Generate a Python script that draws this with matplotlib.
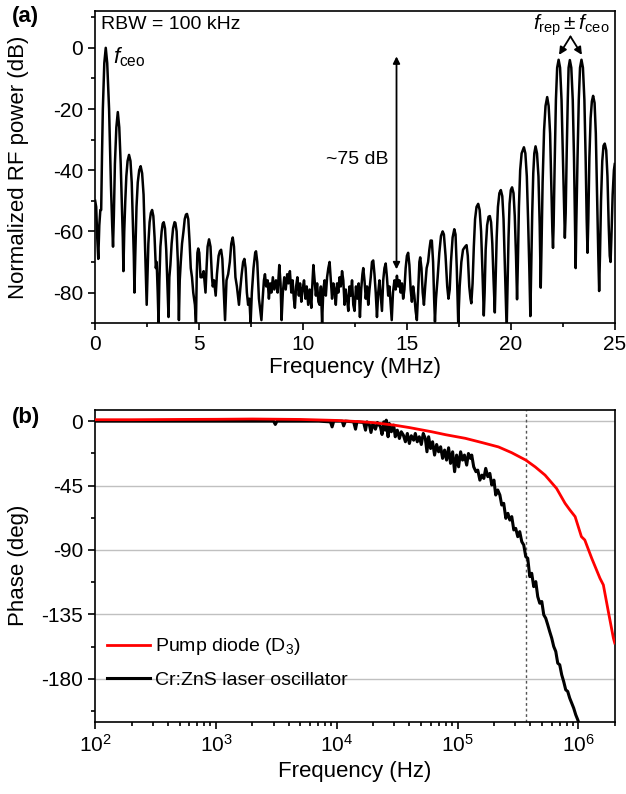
import matplotlib
matplotlib.use("Agg")
import matplotlib.pyplot as plt
from matplotlib.ticker import MultipleLocator, LogLocator, NullFormatter

plt.rcParams["font.family"] = ["Liberation Sans", "DejaVu Sans"]
plt.rcParams["mathtext.fontset"] = "custom"
plt.rcParams["mathtext.rm"] = "Liberation Sans"
plt.rcParams["mathtext.it"] = "Liberation Sans:italic"
plt.rcParams["axes.unicode_minus"] = False

# (a) RF beat spectrum: (MHz, dB)
spec_low = [  # f_ceo and its decaying neighbours
    (0.00, -50), (0.05, -52), (0.10, -62), (0.15, -69), (0.20, -58), (0.25, -53), (0.29, -53),
    (0.33, -35), (0.37, -20), (0.44, -5), (0.51, 0), (0.58, -5), (0.67, -20), (0.76, -45),
    (0.82, -58), (0.86, -65), (0.90, -55), (0.95, -38), (1.02, -26), (1.09, -21), (1.16, -26),
    (1.23, -38), (1.30, -55), (1.33, -62), (1.36, -73), (1.40, -60), (1.45, -50), (1.50, -42),
    (1.56, -37), (1.63, -35), (1.70, -37), (1.76, -44), (1.82, -58), (1.86, -68), (1.89, -80),
    (1.93, -68), (1.99, -52), (2.05, -44), (2.12, -40), (2.19, -38.7), (2.26, -41), (2.33, -48),
    (2.39, -62), (2.44, -74), (2.48, -84), (2.52, -74), (2.56, -64), (2.62, -57), (2.68, -54),
    (2.74, -53), (2.80, -55), (2.86, -62), (2.92, -72), (2.96, -70), (3.01, -80), (3.05, -90),
    (3.09, -76), (3.14, -65), (3.20, -60), (3.25, -57.5), (3.30, -57), (3.36, -59), (3.42, -66),
    (3.48, -78), (3.53, -88), (3.57, -75), (3.62, -71), (3.68, -64), (3.75, -59), (3.82, -57),
    (3.86, -57.2), (3.92, -60), (3.98, -70), (4.03, -89), (4.07, -76), (4.12, -70), (4.18, -64),
    (4.25, -60), (4.31, -56), (4.37, -54.5), (4.42, -54.3), (4.48, -56), (4.54, -63), (4.60, -72),
    (4.66, -75), (4.72, -80), (4.80, -84), (4.85, -90), (4.89, -74), (4.92, -67), (4.96, -65.6),
    (5.01, -67), (5.07, -75), (5.14, -75), (5.22, -73), (5.31, -80), (5.36, -72), (5.41, -65),
    (5.48, -62.6), (5.55, -65), (5.62, -75), (5.66, -78), (5.72, -76), (5.80, -81), (5.86, -74),
    (5.94, -68), (6.00, -66.5), (6.06, -66), (6.12, -69), (6.19, -80), (6.25, -89),
]
spec_mid = [  # noise floor
    (6.32, -76), (6.40, -74), (6.48, -70), (6.55, -64), (6.62, -62), (6.68, -65), (6.75, -75),
    (6.82, -78), (6.92, -84), (6.98, -79), (7.05, -74), (7.12, -70), (7.18, -69), (7.24, -72),
    (7.30, -80), (7.36, -84), (7.42, -82), (7.48, -90), (7.54, -80), (7.62, -72), (7.70, -67),
    (7.74, -66.5), (7.80, -70), (7.88, -82), (7.95, -86), (8.00, -89), (8.06, -82), (8.12, -76),
    (8.17, -74), (8.23, -78), (8.30, -76), (8.36, -82), (8.42, -77), (8.48, -80), (8.55, -75),
    (8.62, -79), (8.70, -76), (8.78, -80), (8.86, -71), (8.92, -77), (8.97, -89), (9.03, -80),
    (9.10, -75), (9.17, -79), (9.24, -74), (9.30, -77), (9.37, -73), (9.44, -80), (9.50, -76),
    (9.56, -82), (9.61, -85), (9.67, -78), (9.73, -75), (9.80, -81), (9.86, -77), (9.92, -83),
    (9.98, -79), (10.05, -76), (10.12, -82), (10.18, -78), (10.25, -84), (10.32, -79),
    (10.40, -85), (10.46, -76), (10.50, -71), (10.55, -75), (10.62, -81), (10.68, -77),
    (10.74, -83), (10.80, -84), (10.86, -78), (10.92, -90), (10.98, -79), (11.04, -76),
    (11.10, -81), (11.16, -75), (11.22, -72), (11.28, -70), (11.34, -76), (11.40, -82),
    (11.46, -77), (11.52, -79), (11.58, -84), (11.64, -77), (11.70, -80), (11.76, -75),
    (11.82, -78), (11.88, -73), (11.94, -76), (12.00, -84), (12.06, -79), (12.12, -82),
    (12.18, -86), (12.24, -78), (12.30, -81), (12.36, -76), (12.42, -84), (12.48, -86),
    (12.55, -78), (12.62, -82), (12.68, -77), (12.74, -88), (12.80, -79), (12.86, -74),
    (12.90, -72), (12.96, -76), (13.02, -82), (13.08, -78), (13.14, -84), (13.20, -79),
    (13.26, -75), (13.32, -70), (13.38, -69.5), (13.44, -74), (13.50, -80), (13.56, -88),
    (13.62, -80), (13.68, -76), (13.75, -82), (13.80, -86), (13.86, -76), (13.92, -72),
    (13.98, -70.5), (14.04, -75), (14.10, -81), (14.16, -78), (14.22, -84), (14.27, -89),
    (14.33, -80), (14.40, -76), (14.46, -79), (14.52, -74.5), (14.58, -78), (14.64, -76),
    (14.70, -80), (14.76, -77), (14.82, -82), (14.88, -79), (14.94, -72), (15.00, -68),
    (15.06, -67), (15.12, -71), (15.18, -79), (15.24, -83), (15.30, -78), (15.36, -81),
    (15.42, -86), (15.48, -89), (15.54, -80), (15.60, -70), (15.64, -68.5), (15.70, -72),
    (15.76, -80), (15.82, -84), (15.88, -78), (15.95, -72), (16.02, -70), (16.08, -66),
    (16.14, -63), (16.20, -63), (16.26, -70), (16.31, -82), (16.35, -89.5), (16.40, -82),
    (16.48, -75), (16.56, -67), (16.64, -61.5), (16.72, -60), (16.78, -61), (16.86, -68),
    (16.94, -78), (17.00, -82), (17.06, -79), (17.12, -70), (17.20, -62), (17.28, -59.3),
    (17.34, -61), (17.40, -72), (17.47, -90), (17.54, -78), (17.62, -70), (17.70, -66),
    (17.80, -65), (17.87, -64.5), (17.93, -68), (18.00, -78), (18.06, -82), (18.10, -83.5),
]
spec_high = [  # f_rep +/- f_ceo cluster
    (18.16, -77), (18.22, -65), (18.28, -56), (18.35, -52), (18.43, -51), (18.50, -53),
    (18.57, -60), (18.63, -72), (18.70, -87.5), (18.74, -80), (18.79, -66), (18.86, -58),
    (18.93, -55.2), (18.99, -55), (19.05, -57), (19.11, -64), (19.17, -76), (19.23, -86.5),
    (19.27, -76), (19.32, -62), (19.38, -52), (19.45, -47.5), (19.52, -46.5), (19.59, -48.5),
    (19.65, -56), (19.71, -70), (19.77, -84), (19.80, -92), (19.84, -78), (19.89, -62),
    (19.94, -51), (20.00, -46.5), (20.06, -45.6), (20.13, -47.5), (20.19, -55), (20.25, -68),
    (20.30, -82.2), (20.34, -70), (20.39, -52), (20.45, -40), (20.52, -34.5), (20.63, -32.5),
    (20.70, -34.5), (20.77, -42), (20.83, -56), (20.89, -72), (20.94, -87.7), (20.98, -72),
    (21.03, -54), (21.08, -41), (21.13, -34.5), (21.19, -32.2), (21.26, -34.5), (21.33, -42),
    (21.39, -58), (21.44, -78.4), (21.48, -64), (21.53, -44), (21.60, -27), (21.67, -19),
    (21.75, -16.1), (21.82, -19), (21.89, -28), (21.95, -45), (22.00, -60), (22.03, -65.4),
    (22.06, -58), (22.11, -38), (22.17, -17), (22.23, -6.5), (22.30, -3.9), (22.37, -6.5),
    (22.44, -17), (22.50, -34), (22.56, -52), (22.60, -62.1), (22.64, -54), (22.69, -34),
    (22.74, -17), (22.78, -6.5), (22.84, -4), (22.91, -6.5), (22.98, -17), (23.04, -36),
    (23.09, -58), (23.12, -72), (23.15, -58), (23.21, -36), (23.27, -17), (23.33, -6.5),
    (23.40, -3.9), (23.47, -6.5), (23.54, -17), (23.60, -36), (23.65, -56), (23.69, -67),
    (23.73, -56), (23.78, -36), (23.84, -23), (23.90, -17.5), (23.96, -15.7), (24.03, -18),
    (24.09, -28), (24.15, -48), (24.21, -68), (24.25, -79.5), (24.29, -68), (24.34, -50),
    (24.40, -37), (24.46, -32), (24.52, -31.3), (24.59, -33.5), (24.65, -42), (24.71, -58),
    (24.76, -68), (24.80, -70), (24.84, -62), (24.90, -48), (24.96, -40), (25.00, -38),
]

# (b) phase response (Hz, deg)
pump_f = [100, 200, 500, 1000, 2000, 5000, 1e4, 1.5e4, 2e4, 3e4, 4e4, 6.1e4, 8e4, 1.16e5, 1.6e5,
          2.18e5, 2.8e5, 3.67e5, 4.4e5, 5.3e5, 6.6e5, 7.76e5, 8.5e5, 9.4e5, 1.06e6, 1.13e6, 1.29e6,
          1.51e6, 1.61e6, 1.77e6, 1.95e6, 2.0e6]
pump_ph = [1.0, 1.0, 1.2, 1.3, 1.5, 1.2, 0.5, -0.3, -1.0, -2.8, -4.5, -7.4, -9.5, -12, -15,
           -18, -22, -27.2, -32, -37.7, -47, -57.4, -62, -66.7, -80.7, -83, -95.8,
           -109.8, -114.4, -133, -151.6, -155]

osc_f = [100, 1000, 3000, 3100, 3200, 6500, 7100, 8870, 9150, 9440, 11100, 11400, 11800, 13800,
         14300, 14700, 16700, 17300, 17800, 18600, 19200, 19900, 20900, 21700, 23000, 23700, 24500,
         25200, 25700, 26600, 27200, 28300, 29600, 30500, 31700, 33000, 34200, 35600, 37000, 38400,
         39900, 41400, 43300, 44700, 46400, 48200, 50100, 52000, 54100, 55800, 57600, 59800, 62100,
         64500, 67100, 69700, 72400, 75200, 78100, 81100, 84300, 87500, 91000, 94500, 98200,
         1.02e5, 1.06e5, 1.10e5, 1.14e5, 1.19e5, 1.23e5, 1.28e5, 1.31e5, 1.36e5, 1.42e5, 1.47e5,
         1.53e5, 1.59e5, 1.65e5, 1.71e5, 1.78e5, 1.85e5, 1.92e5, 2.00e5, 2.07e5, 2.15e5, 2.24e5,
         2.32e5, 2.41e5, 2.51e5, 2.61e5, 2.71e5, 2.81e5, 2.92e5, 3.03e5, 3.15e5, 3.27e5, 3.40e5,
         3.53e5, 3.67e5, 3.81e5, 3.96e5, 4.11e5, 4.27e5, 4.44e5, 4.61e5, 4.79e5, 4.98e5, 5.17e5,
         5.37e5, 5.58e5, 5.79e5, 6.02e5, 6.25e5, 6.50e5, 6.75e5, 7.01e5, 7.28e5, 7.56e5, 7.86e5,
         8.16e5, 8.48e5, 8.81e5, 9.15e5, 9.51e5, 9.88e5, 1.02e6]
osc_ph = [0, 0, 0, -2.3, 0, 0, 0, -0.5, -4.0, 0, 0, -3.3, 0, -0.5,
          -5.6, -0.5, -0.9, -6.3, -0.5, -2.3, -7.9, -1.6, -5.6, -0.9, -4.0, -9.3, -0.5,
          -6.3, 0.7, -10.9, -1.6, -7.4, -2.8, -10.9, -6.3, -12.1, -7.4, -9.8, -14.4, -8.6,
          -15.6, -10.2, -13.3, -8.6, -14.4, -10.9, -16.3, -8.6, -12.1, -21.4, -10.9, -19.1, -14.4,
          -23.7, -16.3, -21.4, -17.9, -26.0, -20.2, -27.2, -18.6, -29.5, -21.4, -35.3, -23.7,
          -31.9, -21.4, -27.2, -23.7, -30.7, -22.6, -26.0, -23.7, -31.9, -35.3, -34.2,
          -41.2, -37.7, -40.0, -33.0, -38.8, -36.5, -44.6, -41.2, -51.6, -48.1, -51.6,
          -58.6, -57.4, -67.9, -64.4, -69.1, -66.7, -76.0, -74.9, -80.7, -77.2, -84.2,
          -86.5, -94.7, -95.8, -108.6, -106.3, -115.6, -112.1, -122.6, -127.2, -126.0, -135.3,
          -137.7, -142.3, -147.0, -151.6, -157.4, -160.9, -169.1, -170.2, -177.2, -181.9, -187.7,
          -188.8, -193.5, -197.0, -200.5, -205.1, -208.6, -212]

cutoff_hz = 3.7e5
FS = 15
LFS = 16

spec_f, spec_db = zip(*(spec_low + spec_mid + spec_high))

fig = plt.figure(figsize=(6.26, 7.94), dpi=100)
ax1 = fig.add_axes([0.152, 0.593, 0.830, 0.393])
ax2 = fig.add_axes([0.152, 0.091, 0.830, 0.393])

for ax in (ax1, ax2):
    for s in ax.spines.values():
        s.set_linewidth(1.2)
    ax.tick_params(which="both", direction="out", top=False, right=False,
                   labelsize=FS, width=1.2)
    ax.tick_params(which="major", length=5)
    ax.tick_params(which="minor", length=3)

# ---- (a)
ax1.plot(spec_f, spec_db, color="black", lw=1.8, solid_joinstyle="round")
ax1.set_xlim(0, 25)
ax1.set_ylim(-90, 12)
ax1.xaxis.set_major_locator(MultipleLocator(5))
ax1.xaxis.set_minor_locator(MultipleLocator(2.5))
ax1.yaxis.set_minor_locator(MultipleLocator(10))
ax1.set_yticks([0, -20, -40, -60, -80])
ax1.set_xlabel("Frequency (MHz)", fontsize=LFS, labelpad=2)
ax1.set_ylabel("Normalized RF power (dB)", fontsize=LFS)
ax1.yaxis.set_label_coords(-0.128, 0.5)

ax1.text(0.012, 0.985, "RBW = 100 kHz", transform=ax1.transAxes, fontsize=14,
         ha="left", va="top")
ax1.text(0.85, -3, r"$f_{\mathrm{ceo}}$", fontsize=16, ha="left", va="center")
ax1.text(22.9, 7.5, r"$f_{\mathrm{rep}}\pm f_{\mathrm{ceo}}$", fontsize=15,
         ha="center", va="center")
for xe in (22.32, 23.42):
    ax1.annotate("", xy=(xe, -2.3), xytext=(22.87, 3.7),
                 arrowprops=dict(arrowstyle="-|>", color="black", lw=1.3,
                                 mutation_scale=11, shrinkA=0, shrinkB=0))
ax1.annotate("", xy=(14.5, -2.8), xytext=(14.5, -72.4),
             arrowprops=dict(arrowstyle="<|-|>", color="black", lw=1.3,
                             mutation_scale=10, shrinkA=0, shrinkB=0))
ax1.text(14.1, -36.5, "~75 dB", fontsize=14, ha="right", va="center")

# ---- (b)
ax2.set_xscale("log")
for yv in (0, -45, -90, -135, -180):
    ax2.axhline(yv, color="#c0c0c0", lw=1.0, zorder=0)
ax2.axvline(cutoff_hz, color="#555555", lw=1.0, ls=(0, (2, 2)), zorder=1)
ax2.plot(osc_f, osc_ph, color="black", lw=2.2, label="Cr:ZnS laser oscillator", zorder=2)
ax2.plot(pump_f, pump_ph, color="#ff0000", lw=2.0, label=r"Pump diode (D$_3$)", zorder=3)
ax2.set_xlim(100, 2e6)
ax2.set_ylim(-210, 8)
ax2.set_yticks([0, -45, -90, -135, -180])
ax2.yaxis.set_minor_locator(MultipleLocator(22.5))
ax2.xaxis.set_major_locator(LogLocator(base=10, numticks=10))
ax2.xaxis.set_minor_locator(LogLocator(base=10, subs=range(2, 10), numticks=20))
ax2.xaxis.set_minor_formatter(NullFormatter())
ax2.set_xlabel("Frequency (Hz)", fontsize=LFS)
ax2.set_ylabel("Phase (deg)", fontsize=LFS)
ax2.yaxis.set_label_coords(-0.128, 0.5)

h, l = ax2.get_legend_handles_labels()
ax2.legend(h[::-1], l[::-1], loc="center left", bbox_to_anchor=(0.0, 0.19),
           frameon=False, fontsize=14, handlelength=2.2, handletextpad=0.3,
           labelspacing=0.7, borderaxespad=0.2)

fig.text(0.019, 0.993, "(a)", fontsize=16, fontweight="bold", va="top", ha="left")
fig.text(0.019, 0.487, "(b)", fontsize=16, fontweight="bold", va="top", ha="left")

fig.savefig("out.png", dpi=100)
